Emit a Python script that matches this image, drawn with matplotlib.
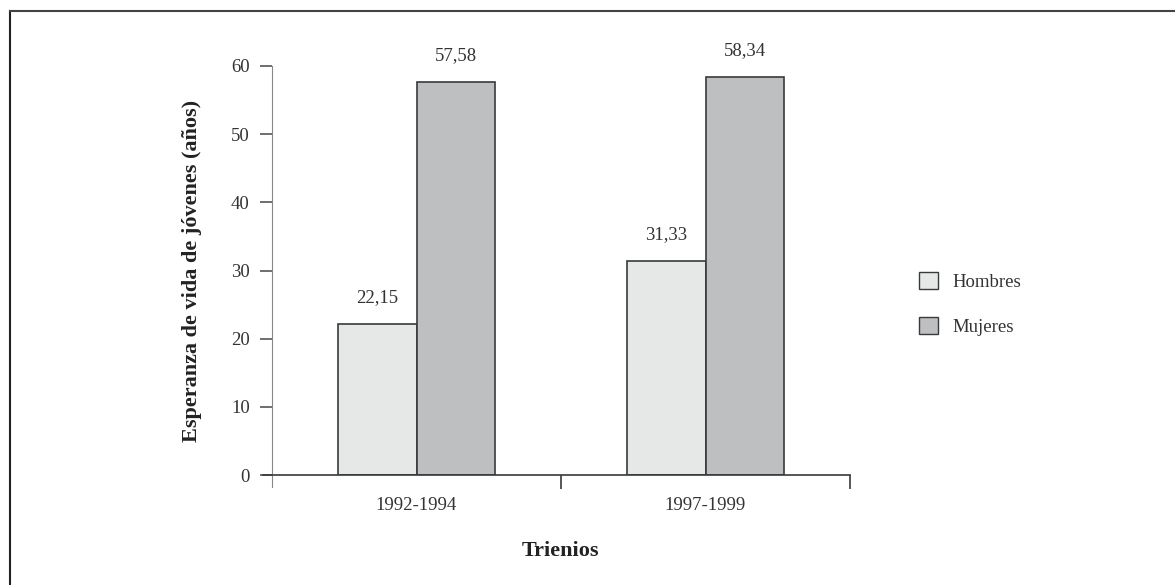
import matplotlib.pyplot as plt
import numpy as np
from matplotlib.lines import Line2D
from matplotlib.patches import Patch

# データ
trienios = ['1992-1994', '1997-1999']
hombres = [22.15, 31.33]
mujeres = [57.58, 58.34]
y_ticks = [0, 10, 20, 30, 40, 50, 60]

plt.rcParams['font.family'] = ['Liberation Serif', 'DejaVu Serif']
text_color = '#333333'
col_h = '#e6e7e7'
col_m = '#bebfc1'
edge = '#3a3a3a'

fig = plt.figure(figsize=(11.75, 5.85), dpi=100)
ax = fig.add_axes([272 / 1175, 1 - 475 / 585, 578 / 1175, (475 - 66) / 585])

x = np.arange(len(trienios))
w = 0.273
b1 = ax.bar(x - w / 2, hombres, w, color=col_h, edgecolor=edge, linewidth=1.2, label='Hombres')
b2 = ax.bar(x + w / 2, mujeres, w, color=col_m, edgecolor=edge, linewidth=1.2, label='Mujeres')

# 値ラベル（小数点はカンマ）
for bars, vals in [(b1, hombres), (b2, mujeres)]:
    ax.bar_label(bars, labels=[f'{v:.2f}'.replace('.', ',') for v in vals],
                 padding=13, fontsize=13.5, color=text_color)

ax.set_xlim(-0.5, 1.5)
ax.set_ylim(0, 60)
ax.set_yticks(y_ticks)
ax.set_xticks(x)
ax.set_xticklabels(trienios)
ax.set_xticks([0.5, 1.5], minor=True)
ax.tick_params(axis='x', which='major', length=0, pad=16, labelsize=13.5, labelcolor=text_color)
ax.tick_params(axis='x', which='minor', length=10, width=1.2, color=edge, direction='out')
ax.tick_params(axis='y', length=9, width=1.2, color='#555555', pad=7, labelsize=13.5, labelcolor=text_color)

for s in ['top', 'right']:
    ax.spines[s].set_visible(False)
ax.spines['left'].set_color('#888888')
ax.spines['left'].set_bounds(-1.7, 60)
ax.spines['bottom'].set_color(edge)
ax.spines['bottom'].set_linewidth(1.2)
ax.spines['bottom'].set_bounds(-0.532, 1.5)

ax.set_ylabel('Esperanza de vida de jóvenes (años)', fontsize=16, fontweight='bold',
              color='#222222', labelpad=21)
fig.text(560 / 1175, 1 - 551 / 585, 'Trienios', fontsize=16, fontweight='bold',
         color='#222222', ha='center', va='center')

handles = [Patch(facecolor=col_h, edgecolor=edge, label='Hombres'),
           Patch(facecolor=col_m, edgecolor=edge, label='Mujeres')]
fig.legend(handles=handles, loc='center left', bbox_to_anchor=(902 / 1175, 1 - 304 / 585),
           frameon=False, fontsize=13.5, handlelength=1.0, handleheight=1.0,
           labelspacing=1.4, handletextpad=0.8, labelcolor=text_color)

# 外枠
fig.add_artist(Line2D([10 / 1175, 10 / 1175], [1 - 11 / 585, 0], color='#222222', lw=1.5))
fig.add_artist(Line2D([10 / 1175, 1], [1 - 11 / 585, 1 - 11 / 585], color='#444444', lw=1.5))

fig.savefig('out.png', dpi=100)
